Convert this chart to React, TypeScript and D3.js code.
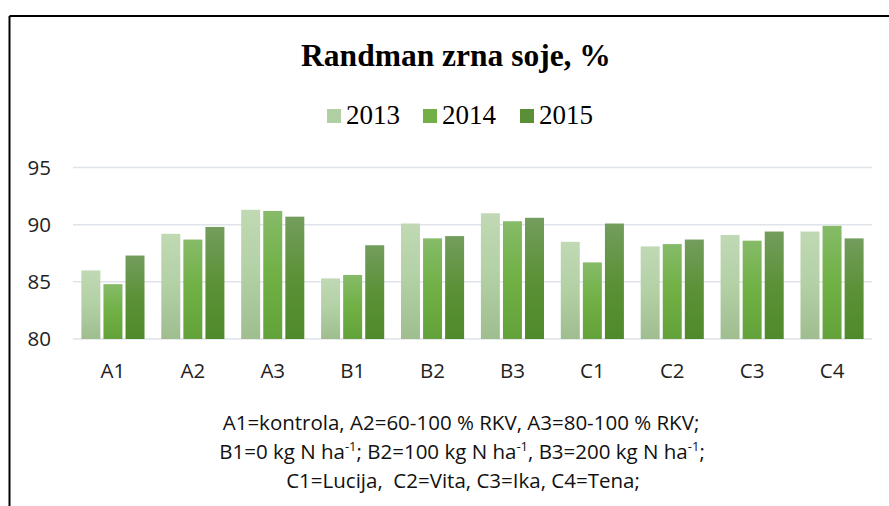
import React from 'react';
import * as d3 from 'd3';

const categories = ['A1', 'A2', 'A3', 'B1', 'B2', 'B3', 'C1', 'C2', 'C3', 'C4'];
const years = ['2013', '2014', '2015'];
const values2013 = [86.0, 89.2, 91.3, 85.3, 90.1, 91.0, 88.5, 88.1, 89.1, 89.4];
const values2014 = [84.8, 88.7, 91.2, 85.6, 88.8, 90.3, 86.7, 88.3, 88.6, 89.9];
const values2015 = [87.3, 89.8, 90.7, 88.2, 89.0, 90.6, 90.1, 88.7, 89.4, 88.8];
const yTicks = [80, 85, 90, 95];

const seriesValues = [values2013, values2014, values2015];
const gradients = [
  { id: 'g2013', top: '#c0d9b4', mid: '#b3d0a5', bottom: '#9fbd8f', swatch: '#b0cfa2' },
  { id: 'g2014', top: '#86bb68', mid: '#70b044', bottom: '#63a23a', swatch: '#72b046' },
  { id: 'g2015', top: '#739d5d', mid: '#5c9137', bottom: '#4e8a2b', swatch: '#5a8f38' },
];

const W = 889;
const H = 506;
const plot = { left: 73, right: 872, top: 167.5, bottom: 339 };
const sans = '"Open Sans", "Liberation Sans", sans-serif';
const serif = '"Liberation Serif", "Times New Roman", serif';

export default function App() {
  const x0 = d3
    .scaleBand<string>()
    .domain(categories)
    .range([plot.left, plot.right])
    .paddingInner(0.21)
    .paddingOuter(0.105);
  const x1 = d3
    .scaleBand<string>()
    .domain(years)
    .range([0, x0.bandwidth()])
    .paddingInner(0.14);
  const y = d3.scaleLinear().domain([80, 95]).range([plot.bottom, plot.top]);

  const legendX = [327, 423, 520];

  return (
    <svg
      width={W}
      height={H}
      style={{ position: 'absolute', left: 0, top: 0, background: '#fff' }}
    >
      <defs>
        {gradients.map(g => (
          <linearGradient key={g.id} id={g.id} x1="0" y1="0" x2="0" y2="1">
            <stop offset="0%" stopColor={g.top} />
            <stop offset="50%" stopColor={g.mid} />
            <stop offset="100%" stopColor={g.bottom} />
          </linearGradient>
        ))}
      </defs>

      {/* frame: only top and left edges visible */}
      <line x1={9.5} y1={16} x2={W} y2={16} stroke="#000" strokeWidth={2} />
      <line x1={9.5} y1={16} x2={9.5} y2={H} stroke="#000" strokeWidth={2} />

      <text
        x={456}
        y={66}
        textAnchor="middle"
        fontFamily={serif}
        fontWeight="bold"
        fontSize={31.5}
      >
        Randman zrna soje, %
      </text>

      {years.map((yr, i) => (
        <g key={yr}>
          <rect x={legendX[i]} y={109} width={14} height={14} fill={gradients[i].swatch} />
          <text x={legendX[i] + 19} y={124} fontFamily={serif} fontSize={27}>
            {yr}
          </text>
        </g>
      ))}

      {yTicks.map(t => (
        <g key={t}>
          <line
            x1={plot.left}
            x2={plot.right}
            y1={y(t)}
            y2={y(t)}
            stroke="#dfe3ea"
            strokeWidth={1.5}
          />
          <text
            x={51}
            y={y(t)}
            dy="0.36em"
            textAnchor="end"
            fontFamily={sans}
            fontSize={20.5}
            fill="#222"
          >
            {t}
          </text>
        </g>
      ))}

      {categories.map((c, ci) => (
        <g key={c} transform={`translate(${x0(c)},0)`}>
          {years.map((yr, si) => {
            const v = seriesValues[si][ci];
            return (
              <rect
                key={yr}
                x={x1(yr)}
                y={y(v)}
                width={x1.bandwidth()}
                height={y(80) - y(v)}
                fill={`url(#${gradients[si].id})`}
              />
            );
          })}
          <text
            x={x0.bandwidth() / 2}
            y={378}
            textAnchor="middle"
            fontFamily={sans}
            fontSize={20.5}
            fill="#222"
          >
            {c}
          </text>
        </g>
      ))}

      <g fontFamily={sans} fontSize={20.5} fill="#111" textAnchor="middle">
        <text x={461} y={430}>
          A1=kontrola, A2=60-100 % RKV, A3=80-100 % RKV;
        </text>
        <text x={462} y={459}>
          B1=0 kg N ha<tspan dy={-8} fontSize={13}>-1</tspan>
          <tspan dy={8}>; B2=100 kg N ha</tspan>
          <tspan dy={-8} fontSize={13}>-1</tspan>
          <tspan dy={8}>, B3=200 kg N ha</tspan>
          <tspan dy={-8} fontSize={13}>-1</tspan>
          <tspan dy={8}>;</tspan>
        </text>
        <text x={463} y={488}>
          C1=Lucija,{'\u00a0'} C2=Vita, C3=Ika, C4=Tena;
        </text>
      </g>
    </svg>
  );
}
